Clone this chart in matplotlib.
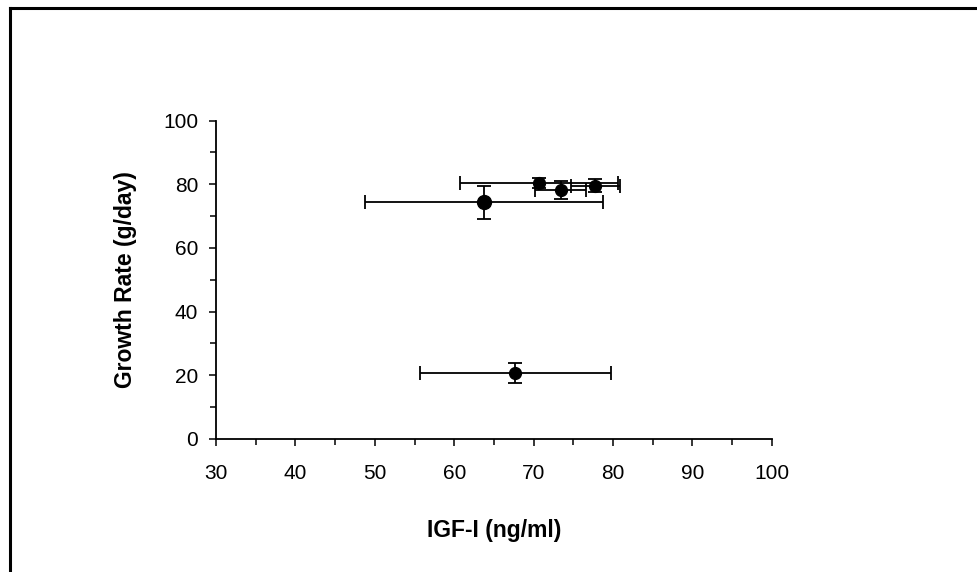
import matplotlib
matplotlib.use('Agg')
import matplotlib.pyplot as plt
from matplotlib.lines import Line2D
from matplotlib.ticker import MultipleLocator

plt.rcParams['font.family'] = ['Liberation Sans', 'DejaVu Sans']

# IGF-I (ng/ml) vs growth rate (g/day)
igf = [63.8, 70.7, 73.4, 77.8, 67.7]
igf_err = [15.0, 10.0, 3.2, 3.1, 12.0]
growth = [74.3, 80.3, 78.2, 79.6, 20.7]
growth_err = [5.2, 1.6, 2.9, 2.0, 3.2]
marker_sizes = [10, 8.5, 8.5, 8.5, 8.5]

fig = plt.figure(figsize=(9.78, 5.72), dpi=100)
ax = fig.add_axes([0.221, 0.233, 0.568, 0.556])

for i in range(len(igf)):
    ax.errorbar(igf[i], growth[i], xerr=igf_err[i], yerr=growth_err[i],
                fmt='o', color='black', ms=marker_sizes[i], elinewidth=1.3,
                capsize=5, capthick=1.3)

ax.set_xlim(30, 100)
ax.set_ylim(0, 100)
ax.xaxis.set_major_locator(MultipleLocator(10))
ax.xaxis.set_minor_locator(MultipleLocator(5))
ax.yaxis.set_major_locator(MultipleLocator(20))
ax.yaxis.set_minor_locator(MultipleLocator(10))
ax.spines['top'].set_visible(False)
ax.spines['right'].set_visible(False)
for s in ['left', 'bottom']:
    ax.spines[s].set_linewidth(1.3)
ax.tick_params(which='both', direction='out', width=1.1, labelsize=15)
ax.tick_params(which='major', length=5)
ax.tick_params(which='minor', length=4)
ax.tick_params(axis='x', pad=13)
ax.tick_params(axis='y', pad=8)

ax.set_xlabel('IGF-I (ng/ml)', fontsize=16.5, fontweight='bold', labelpad=26)
ax.set_ylabel('Growth Rate (g/day)', fontsize=16.5, fontweight='bold', labelpad=19)

# frame around the figure (left and top edges visible)
fig.add_artist(Line2D([9.5 / 978, 9.5 / 978], [0, 1 - 7.5 / 572],
                      transform=fig.transFigure, color='black', lw=2.2,
                      solid_capstyle='projecting'))
fig.add_artist(Line2D([9.5 / 978, 1], [1 - 7.5 / 572, 1 - 7.5 / 572],
                      transform=fig.transFigure, color='black', lw=2.2,
                      solid_capstyle='projecting'))

fig.savefig('out.png', dpi=100)
